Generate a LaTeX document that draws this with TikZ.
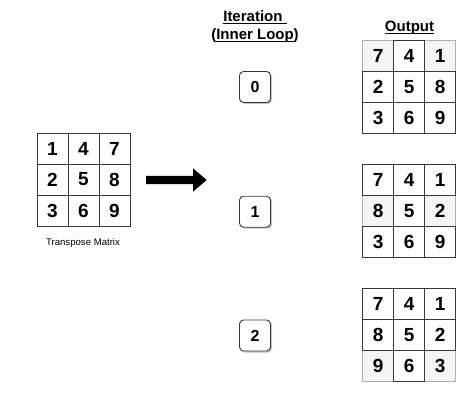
\documentclass[tikz,border=0pt]{standalone}
\usepackage{fontspec}
\setmainfont{Liberation Sans}
\usetikzlibrary{shadows}
\definecolor{bordc}{HTML}{36393D}
\definecolor{hlfill}{HTML}{F5F5F5}
\definecolor{hlbord}{HTML}{B0B0B0}
\definecolor{shadowc}{HTML}{9A9A9A}
\begin{document}
\begin{tikzpicture}[x=1pt,y=-1pt,
  cell/.style={draw=bordc, line width=0.9pt, minimum size=31pt, inner sep=0pt,
    font=\bfseries\fontsize{19}{19}\selectfont, text=black},
  hcell/.style={cell, fill=hlfill, draw=hlbord},
  iterbox/.style={draw=bordc, line width=0.9pt, rounded corners=4pt, minimum size=31pt,
    inner sep=0pt, fill=white, font=\bfseries\fontsize{16}{16}\selectfont,
    drop shadow={shadow xshift=1.5pt, shadow yshift=-1.5pt, fill=shadowc, opacity=0.6}},
  title/.style={font=\bfseries\fontsize{15}{18}\selectfont, align=center, inner sep=0pt},
  caption/.style={font=\fontsize{9.6}{10}\selectfont, inner sep=0pt}]
\useasboundingbox (0,0) rectangle (474,401);

% input matrix
\foreach \r in {0,1,2}{
  \foreach \c in {0,1,2}{
    \pgfmathtruncatemacro\v{3*\c+\r+1}
    \node[cell] (in-\r\c) at (52.5+31*\c, 148.5+31*\r) {\v};
  }
}
\node[caption] (cap) at (83,242.7) {Transpose Matrix};

% block arrow
\fill[black] (146,176) -- (193,176) -- (193,168.3) -- (206.7,180) -- (193,191.7)
  -- (193,184) -- (146,184) -- cycle;

% titles
\node[title] (itertitle) at (255,32.5) {\underline{\smash{Iteration\ }}\\(\underline{\smash{Inner Loop}})};
\node[title] (outtitle) at (409.5,33) {\underline{\smash{Output}}};

% iteration boxes
\node[iterbox] (it0) at (255,87) {0};
\node[iterbox] (it1) at (255,211.7) {1};
\node[iterbox] (it2) at (255,335.5) {2};

% output matrices
\foreach \m/\top/\vals/\hr in {0/40.7/{7,4,1,2,5,8,3,6,9}/0,
                              1/164.7/{7,4,1,8,5,2,3,6,9}/1,
                              2/288.3/{7,4,1,8,5,2,9,6,3}/2}{
  \foreach \pass in {1,2}{
    \foreach \v [count=\k from 0] in \vals {
      \pgfmathtruncatemacro\r{int(\k/3)}
      \pgfmathtruncatemacro\c{\k-3*\r}
      \def\ishl{0}
      \ifnum\r=\hr \ifnum\c=1 \else \def\ishl{1}\fi\fi
      \ifnum\pass=1
        \ifnum\ishl=1 \node[hcell] (out\m-\r\c) at (378.2+31*\c, \top+15.5+31*\r) {\v};\fi
      \else
        \ifnum\ishl=0 \node[cell] (out\m-\r\c) at (378.2+31*\c, \top+15.5+31*\r) {\v};\fi
      \fi
    }
  }
}
\end{tikzpicture}
\end{document}
